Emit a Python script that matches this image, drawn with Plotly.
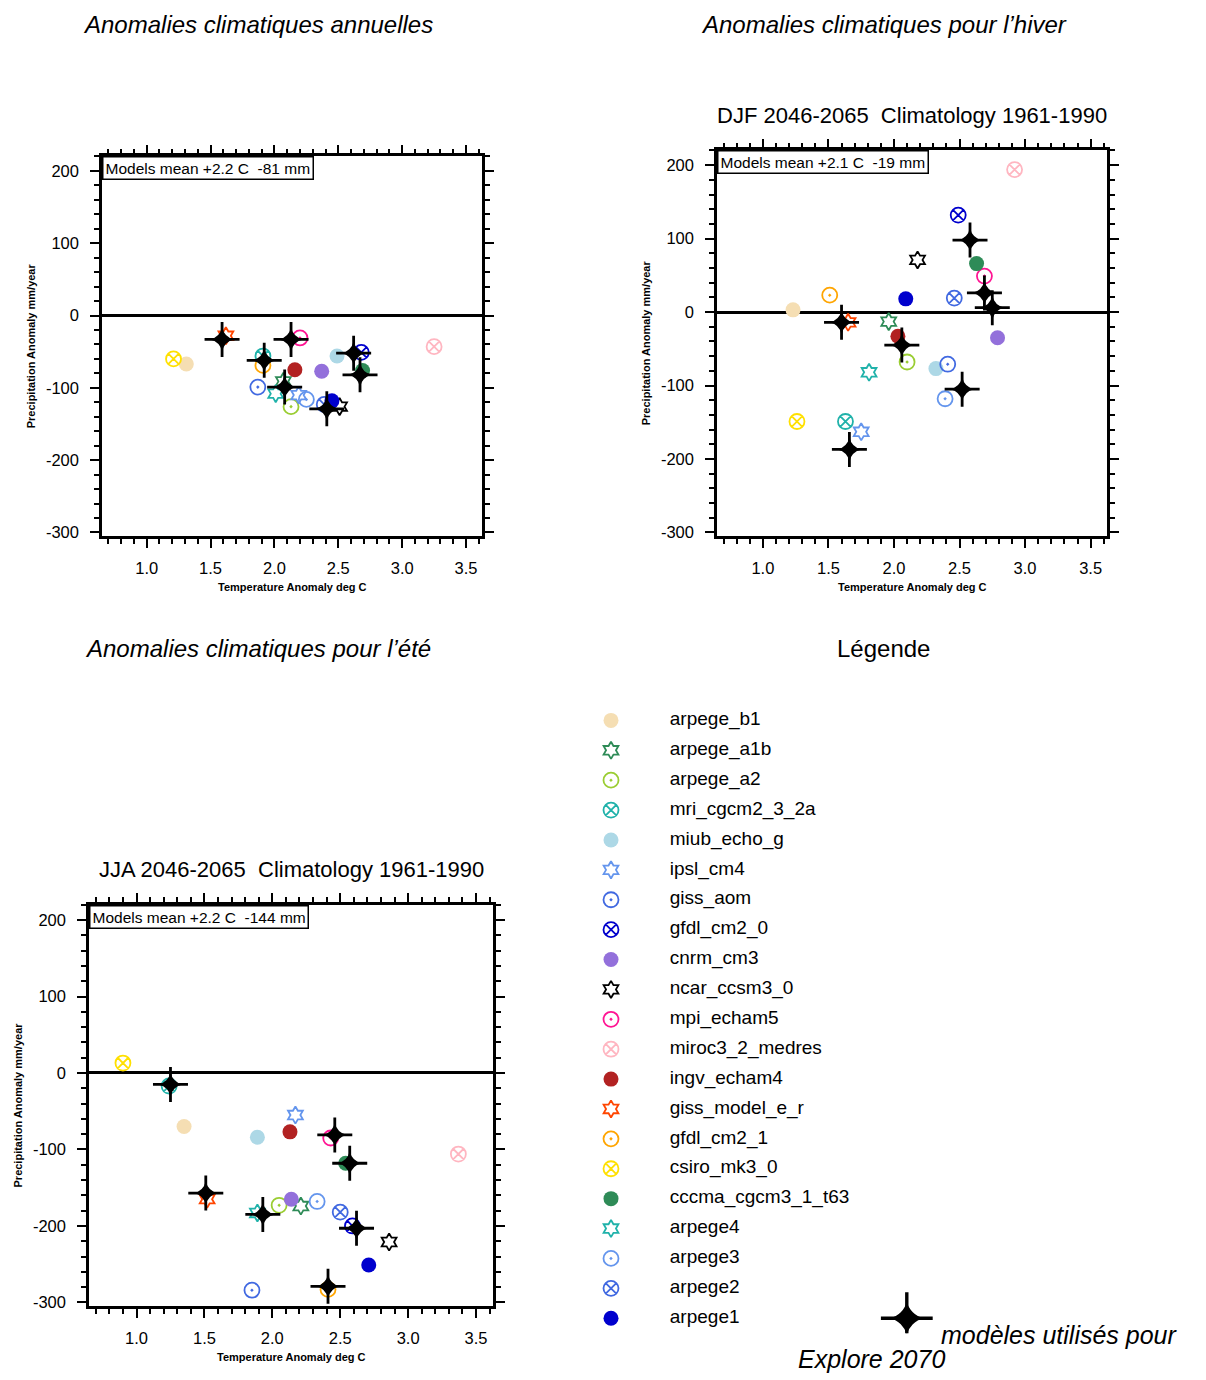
import plotly.graph_objects as go

# ---------------- data ----------------
models = ["arpege_b1", "arpege_a1b", "arpege_a2", "mri_cgcm2_3_2a", "miub_echo_g",
          "ipsl_cm4", "giss_aom", "gfdl_cm2_0", "cnrm_cm3", "ncar_ccsm3_0",
          "mpi_echam5", "miroc3_2_medres", "ingv_echam4", "giss_model_e_r",
          "gfdl_cm2_1", "csiro_mk3_0", "cccma_cgcm3_1_t63", "arpege4", "arpege3",
          "arpege2", "arpege1"]

colors = ["#F5DEB3", "#2E8B57", "#9ACD32", "#20B2AA", "#ADD8E6",
          "#6495ED", "#4169E1", "#0000CD", "#9370DB", "#000000",
          "#FF1493", "#FFB6C1", "#B22222", "#FF4500",
          "#FFA500", "#FFE000", "#2E8B57", "#20B2AA", "#6495ED",
          "#4169E1", "#0000CD"]

symbols = ["circle", "hexagram-open", "circle-open-dot", "circle-x-open", "circle",
           "hexagram-open", "circle-open-dot", "circle-x-open", "circle", "hexagram-open",
           "circle-open-dot", "circle-x-open", "circle", "hexagram-open",
           "circle-open-dot", "circle-x-open", "circle", "hexagram-open", "circle-open-dot",
           "circle-x-open", "circle"]

# Annual anomalies (temperature deg C, precipitation mm/year)
ann_temp = [1.31, 2.07, 2.13, 1.91, 2.49, 2.19, 1.87, 2.68, 2.37, 2.51, 2.20,
            3.25, 2.16, 1.62, 1.91, 1.21, 2.69, 2.01, 2.25, 2.39, 2.45]
ann_prec = [-67, -91, -126, -56, -56, -110, -99, -51, -77, -126, -31,
            -43, -75, -28, -69, -60, -76, -108, -116, -123, -118]
ann_star_temp = [1.59, 2.13, 1.92, 2.08, 2.41, 2.62, 2.67]
ann_star_prec = [-33, -33, -62, -99, -129, -52, -82]

# Winter (DJF)
djf_temp = [1.23, 1.96, 2.10, 1.63, 2.32, 1.75, 2.41, 2.49, 2.79, 2.18, 2.69,
            2.92, 2.03, 1.65, 1.51, 1.26, 2.63, 1.81, 2.39, 2.46, 2.09]
djf_prec = [3, -13, -68, -149, -77, -163, -71, 132, -35, 71, 49,
            194, -33, -14, 23, -149, 66, -82, -118, 19, 18]
djf_star_temp = [1.60, 2.06, 2.52, 1.66, 2.58, 2.69, 2.75]
djf_star_prec = [-14, -45, -105, -187, 98, 26, 6]

# Summer (JJA)
jja_temp = [1.35, 2.21, 2.05, 1.24, 1.89, 2.17, 1.85, 2.59, 2.14, 2.86, 2.43,
            3.37, 2.13, 1.52, 2.41, 0.90, 2.54, 1.89, 2.33, 2.50, 2.71]
jja_prec = [-70, -174, -173, -17, -84, -55, -284, -200, -165, -221, -85,
            -106, -77, -165, -283, 13, -118, -183, -168, -182, -251]
jja_star_temp = [1.25, 1.51, 1.93, 2.46, 2.57, 2.62, 2.41]
jja_star_prec = [-15, -157, -185, -81, -118, -203, -279]

means = ["Models mean +2.2 C\u00a0 -81 mm",
         "Models mean +2.1 C\u00a0 -19 mm",
         "Models mean +2.2 C\u00a0 -144 mm"]
panel_titles = [None,
                "DJF 2046-2065\u00a0 Climatology 1961-1990",
                "JJA 2046-2065\u00a0 Climatology 1961-1990"]
headings = ["Anomalies climatiques annuelles",
            "Anomalies climatiques pour l\u2019hiver",
            "Anomalies climatiques pour l\u2019\u00e9t\u00e9",
            "L\u00e9gende"]

x_tickvals = [1.0, 1.5, 2.0, 2.5, 3.0, 3.5]
x_ticktext = ["1.0", "1.5", "2.0", "2.5", "3.0", "3.5"]
y_tickvals = [-300, -200, -100, 0, 100, 200]
y_ticktext = ["-300", "-200", "-100", "0", "100", "200"]

x_title = "Temperature Anomaly deg C"
y_title = "Precipitation Anomaly mm/year"
star_note_1 = "mod\u00e8les utilis\u00e9s pour"
star_note_2 = "Explore 2070"

# ---------------- layout helpers ----------------
OFF = 8                      # default page body margin
W, H = 1206 - OFF, 1380 - OFF
FONT = "Liberation Sans, Arial, Helvetica, sans-serif"


def fx(p):
    return (p - OFF) / W


def fy(p):
    return 1 - (p - OFF) / H


# plot-area pixel boxes (left, right, top, bottom) in page pixels
boxes = [(102, 482, 157, 538), (717, 1107, 151, 538), (89, 493, 908, 1311)]
series = [(ann_temp, ann_prec, ann_star_temp, ann_star_prec),
          (djf_temp, djf_prec, djf_star_temp, djf_star_prec),
          (jja_temp, jja_prec, jja_star_temp, jja_star_prec)]


def marker_for(i):
    sym = symbols[i]
    if sym == "circle":
        return dict(symbol=sym, color=colors[i], size=15, line=dict(width=0))
    size = 13 if sym.startswith("hexagram") else 15
    return dict(symbol=sym, color=colors[i], size=size,
                line=dict(color=colors[i], width=1.8))


def add_stars(fig, xs, ys, xa, ya, big=False):
    fig.add_trace(go.Scatter(x=xs, y=ys, mode="markers", xaxis=xa, yaxis=ya,
                             showlegend=False, name="Explore 2070", hoverinfo="skip",
                             marker=dict(symbol="cross-thin", size=37 if big else 25,
                                         color="black",
                                         line=dict(color="black",
                                                   width=3.4 if big else 2.8))))
    fig.add_trace(go.Scatter(x=xs, y=ys, mode="markers", xaxis=xa, yaxis=ya,
                             showlegend=False, name="Explore 2070",
                             marker=dict(symbol="star-diamond", size=24 if big else 17,
                                         color="black", line=dict(width=0))))


fig = go.Figure()
layout_axes = {}
annotations = []

for k, (box, ser) in enumerate(zip(boxes, series)):
    n = k + 1
    xa = "x" if n == 1 else f"x{n}"
    ya = "y" if n == 1 else f"y{n}"
    l, r, t, b = box
    temp, prec, stx, sty = ser
    for i, m in enumerate(models):
        fig.add_trace(go.Scatter(
            x=[temp[i]], y=[prec[i]], mode="markers", name=m, xaxis=xa, yaxis=ya,
            showlegend=False, marker=marker_for(i)))
    add_stars(fig, stx, sty, xa, ya)

    common = dict(showline=True, linecolor="black", linewidth=2.5, mirror="ticks",
                  ticks="outside", ticklen=9, tickwidth=2, tickcolor="black",
                  showgrid=False, tickfont=dict(family=FONT, size=16.5, color="black"))
    layout_axes["xaxis" if n == 1 else f"xaxis{n}"] = dict(
        common, domain=[fx(l), fx(r)], anchor=ya, range=[0.65, 3.625],
        tickmode="array", tickvals=x_tickvals, ticktext=x_ticktext, zeroline=False,
        ticklabelstandoff=6,
        minor=dict(ticks="outside", ticklen=5, tickwidth=1.5, tickcolor="black",
                   dtick=0.1, tick0=0, showgrid=False))
    layout_axes["yaxis" if n == 1 else f"yaxis{n}"] = dict(
        common, domain=[fy(b), fy(t)], anchor=xa, range=[-305, 220],
        tickmode="array", tickvals=y_tickvals, ticktext=y_ticktext,
        zeroline=True, zerolinecolor="black", zerolinewidth=3,
        ticklabelstandoff=8,
        minor=dict(ticks="outside", ticklen=5, tickwidth=1.5, tickcolor="black",
                   dtick=20, tick0=0, showgrid=False))

    # models-mean box
    annotations.append(dict(xref=f"{xa} domain", yref=f"{ya} domain", x=0, y=1,
                            xanchor="left", yanchor="top", text=means[k], showarrow=False,
                            font=dict(family=FONT, size=15.5, color="black"),
                            bordercolor="black", borderwidth=1.5, borderpad=2,
                            bgcolor="white"))
    # axis titles
    annotations.append(dict(xref="paper", yref="paper", x=fx((l + r) / 2), y=fy(b + 51),
                            text=f"<b>{x_title}</b>", showarrow=False,
                            xanchor="center", yanchor="middle",
                            font=dict(family=FONT, size=11, color="black")))
    annotations.append(dict(xref="paper", yref="paper", x=fx(l - 71), y=fy((t + b) / 2),
                            text=f"<b>{y_title}</b>", showarrow=False, textangle=-90,
                            xanchor="center", yanchor="middle",
                            font=dict(family=FONT, size=11, color="black")))
    if panel_titles[k]:
        annotations.append(dict(xref="paper", yref="paper", x=fx((l + r) / 2),
                                y=fy(t - 35), text=panel_titles[k], showarrow=False,
                                xanchor="center", yanchor="middle",
                                font=dict(family=FONT, size=22, color="black")))

# ---------------- legend panel ----------------
legend_rows = list(range(len(models)))
for i, m in enumerate(models):
    fig.add_trace(go.Scatter(x=[0.5], y=[legend_rows[i]], mode="markers", name=m,
                             xaxis="x4", yaxis="y4", showlegend=False,
                             marker=marker_for(i)))
fig.add_trace(go.Scatter(x=[1.48] * len(models), y=legend_rows, mode="text", text=models,
                         textposition="middle right", xaxis="x4", yaxis="y4",
                         showlegend=False, hoverinfo="skip",
                         textfont=dict(family=FONT, size=19, color="black")))
# key star for "modèles utilisés pour Explore 2070"
add_stars(fig, [5.43], [20.0], "x4", "y4", big=True)
layout_axes["xaxis4"] = dict(domain=[fx(581), fx(1181)], range=[0, 10], visible=False,
                             anchor="y4")
layout_axes["yaxis4"] = dict(domain=[fy(1338), fy(708)], range=[20.5, -0.5],
                             visible=False, anchor="x4")

# headings
for txt, cx, cy, ital in [(headings[0], 258, 25, True), (headings[1], 884, 25, True),
                          (headings[2], 258, 651, True), (headings[3], 883, 651, False)]:
    annotations.append(dict(xref="paper", yref="paper", x=fx(cx), y=fy(cy), text=txt,
                            showarrow=False, xanchor="center", yanchor="middle",
                            font=dict(family=FONT, size=24, color="black",
                                      style="italic" if ital else "normal")))
annotations.append(dict(xref="paper", yref="paper", x=fx(939), y=fy(1340),
                        text=star_note_1, showarrow=False, xanchor="left",
                        yanchor="middle",
                        font=dict(family=FONT, size=25, color="black", style="italic")))
annotations.append(dict(xref="paper", yref="paper", x=fx(796), y=fy(1364),
                        text=star_note_2, showarrow=False, xanchor="left",
                        yanchor="middle",
                        font=dict(family=FONT, size=25, color="black", style="italic")))

fig.update_layout(width=W, height=H, autosize=False,
                  margin=dict(l=0, r=0, t=0, b=0, pad=0),
                  paper_bgcolor="white", plot_bgcolor="white",
                  showlegend=False, annotations=annotations,
                  font=dict(family=FONT, color="black"),
                  **layout_axes)

fig.write_html("out.html")
